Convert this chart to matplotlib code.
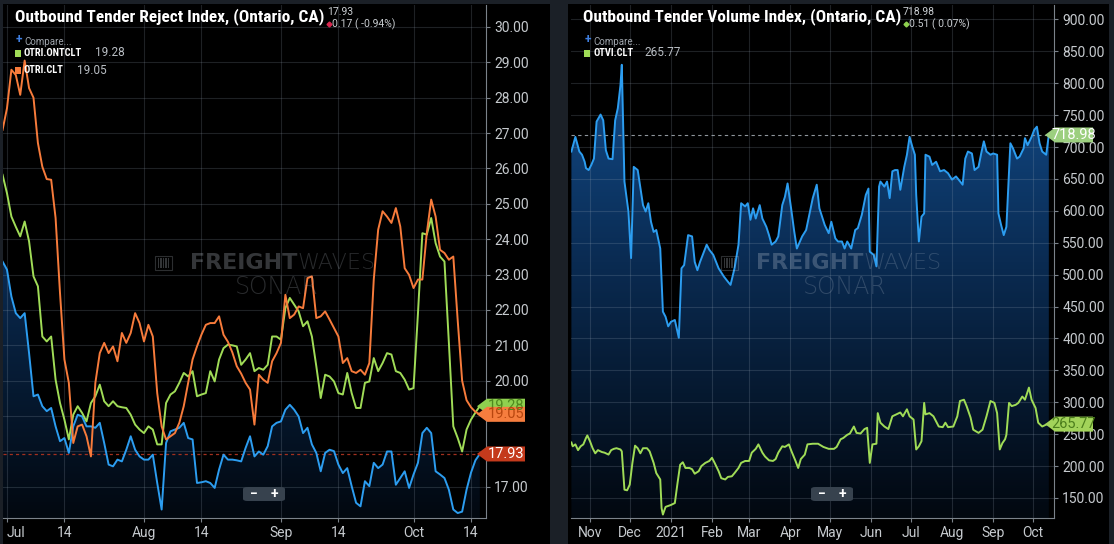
import numpy as np
import pandas as pd
import matplotlib
matplotlib.use("Agg")
import matplotlib.pyplot as plt
import matplotlib.dates as mdates
from matplotlib import font_manager as fm
from matplotlib.colors import LinearSegmentedColormap
from matplotlib.lines import Line2D
from matplotlib.patches import FancyBboxPatch, Polygon, Rectangle

W, H = 1114, 544

# left panel : Outbound Tender Reject Index (Ontario, CA), daily from REJECT_START
REJECT_START = "2021-06-30"
otri = [23.37, 23.14, 22.38, 21.91, 21.77, 21.91, 20.78, 19.56, 19.61, 19.28,
        19.14, 19.23, 18.71, 18.29, 18.38, 17.96, 18.71, 19.04, 18.99, 18.71,
        18.71, 18.67, 18.81, 18.24, 17.63, 17.58, 17.77, 17.72, 18.05, 18.43,
        18.05, 17.86, 17.77, 17.77, 17.91, 17.11, 16.36, 18.24, 18.57, 18.62,
        18.67, 18.81, 18.38, 18.34, 17.11, 17.13, 17.16, 17.11, 16.97, 17.49,
        17.91, 17.77, 17.77, 17.75, 17.72, 18.10, 18.43, 17.86, 18.00, 17.91,
        18.15, 18.71, 18.81, 18.85, 19.18, 19.32, 19.18, 18.99, 18.52, 18.67,
        18.20, 17.96, 17.44, 17.96, 18.05, 18.01, 17.63, 17.39, 17.53, 17.02,
        16.55, 16.45, 17.16, 17.02, 17.68, 17.53, 17.63, 18.00, 18.00, 17.06,
        17.25, 17.44, 16.97, 17.35, 17.68, 18.52, 18.67, 18.52, 17.44, 17.35,
        17.25, 16.92, 16.36, 16.26, 16.30, 16.92, 17.40, 17.75, 17.93]
otri_ontclt = [25.82, 25.30, 24.64, 24.35, 24.08, 24.50, 23.94, 22.95, 22.67, 21.25,
               21.11, 21.25, 20.03, 19.37, 18.90, 18.34, 19.04, 19.28, 19.09, 18.85,
               19.37, 19.56, 19.89, 19.42, 19.28, 19.42, 19.28, 19.25, 19.23, 19.04,
               18.76, 18.62, 18.52, 18.71, 18.62, 18.20, 18.20, 19.37, 19.61, 19.70,
               19.94, 20.22, 20.12, 20.27, 19.56, 19.61, 19.65, 20.27, 19.98, 20.60,
               20.92, 21.02, 21.00, 20.97, 20.45, 20.60, 20.78, 20.27, 20.36, 20.31,
               20.45, 21.25, 21.25, 21.16, 22.05, 22.34, 22.15, 21.96, 21.54, 21.68,
               21.25, 20.41, 19.51, 20.17, 20.12, 19.98, 19.65, 19.61, 20.22, 19.65,
               19.23, 19.23, 19.94, 19.98, 20.64, 20.27, 20.50, 20.78, 20.74, 20.27,
               20.22, 20.03, 19.75, 19.79, 21.90, 24.17, 24.13, 24.60, 23.89, 23.51,
               23.37, 21.07, 18.71, 18.38, 18.00, 18.62, 18.90, 19.10, 19.28]
otri_clt = [27.09, 27.70, 28.79, 28.64, 28.08, 29.05, 28.27, 28.00, 26.72, 26.05,
            25.70, 25.68, 24.60, 22.48, 20.60, 19.94, 18.24, 18.71, 18.76, 18.43,
            17.86, 19.94, 20.78, 21.07, 20.78, 20.97, 20.55, 21.35, 21.07, 21.35,
            21.91, 21.63, 21.11, 21.58, 21.25, 19.65, 18.71, 18.34, 18.43, 18.52,
            18.81, 19.28, 19.94, 20.60, 20.97, 21.30, 21.58, 21.63, 21.63, 21.82,
            21.30, 21.10, 20.80, 20.41, 20.20, 19.94, 19.75, 18.76, 20.17, 20.03,
            19.94, 20.55, 20.78, 21.07, 22.43, 21.77, 21.87, 22.10, 22.05, 22.90,
            22.95, 21.77, 21.82, 21.96, 21.73, 21.49, 21.25, 20.50, 20.64, 20.27,
            20.22, 20.31, 20.17, 20.50, 22.86, 24.27, 24.79, 24.64, 24.46, 24.88,
            24.36, 23.18, 22.99, 22.62, 22.86, 22.86, 24.17, 25.12, 24.64, 23.70,
            23.61, 23.42, 23.51, 21.70, 20.00, 19.45, 19.25, 19.12, 19.05]
reject_ticks = ["2021-07-01", "2021-07-14", "2021-08-01", "2021-08-14",
                "2021-09-01", "2021-09-14", "2021-10-01", "2021-10-14"]
reject_tick_labels = ["Jul", "14", "Aug", "14", "Sep", "14", "Oct", "14"]
reject_yticks = [17, 18, 19, 20, 21, 22, 23, 24, 25, 26, 27, 28, 29, 30]

# right panel : Outbound Tender Volume Index, days counted from VOLUME_BASE
VOLUME_BASE = "2020-11-01"
otvi_day = [-14, -11, -8, -6, -4, -3, -1, 1, 3, 5, 8, 10, 12, 14, 17, 19, 21, 23, 24, 26,
            28, 29, 31, 33, 36, 40, 42, 44, 46, 48, 50, 53, 55, 57, 59, 61, 64, 67, 69, 71,
            74, 77, 79, 81, 83, 86, 88, 90, 93, 97, 101, 104, 106, 109, 112, 114, 117, 119,
            121, 123, 125, 128, 130, 133, 135, 137, 140, 142, 145, 147, 149, 152, 154, 156,
            160, 163, 166, 168, 171, 173, 177, 180, 182, 185, 187, 190, 192, 194, 197, 200,
            202, 205, 208, 210, 211, 214, 216, 218, 219, 222, 224, 226, 228, 230, 232, 234,
            237, 239, 241, 243, 245, 246, 248, 250, 252, 253, 256, 258, 261, 264, 267, 270,
            273, 276, 278, 281, 283, 285, 288, 290, 293, 295, 297, 299, 302, 304, 307, 308,
            310, 312, 314, 317, 319, 322, 324, 327, 328, 330, 333, 335, 337, 339, 341, 344,
            345, 346]
otvi = [693, 716, 693, 688, 677, 667, 664, 672, 682, 740, 751, 742, 695, 682, 681, 742,
        761, 797, 829, 646, 614, 599, 526, 669, 664, 609, 599, 612, 583, 567, 570, 541,
        442, 434, 419, 426, 429, 401, 510, 515, 562, 560, 520, 507, 520, 536, 547, 539,
        531, 510, 497, 489, 484, 510, 547, 612, 607, 612, 586, 604, 588, 609, 588, 575,
        562, 547, 552, 560, 609, 622, 643, 599, 568, 541, 560, 570, 600, 620, 641, 604,
        578, 565, 583, 557, 552, 552, 541, 552, 541, 570, 573, 594, 625, 635, 536, 531,
        513, 638, 646, 638, 646, 620, 662, 664, 664, 633, 669, 688, 716, 701, 688, 625,
        552, 591, 596, 688, 685, 672, 677, 662, 664, 659, 649, 654, 649, 641, 682, 693,
        690, 664, 669, 690, 709, 693, 688, 690, 688, 596, 578, 562, 575, 706, 698, 682,
        685, 698, 714, 703, 716, 727, 732, 706, 693, 688, 703, 718.98]
otvi_clt_day = [-14, -13, -11, -9, -7, -5, -3, -2, 0, 2, 4, 6, 9, 11, 14, 16, 18, 20, 23,
                24, 26, 28, 30, 32, 34, 36, 38, 40, 43, 45, 48, 50, 53, 54, 55, 57, 61, 64,
                66, 68, 70, 72, 75, 77, 79, 82, 84, 87, 90, 92, 94, 97, 99, 102, 104, 107,
                109, 112, 114, 117, 120, 122, 125, 127, 130, 132, 135, 138, 140, 142, 145,
                147, 150, 152, 155, 157, 159, 162, 164, 168, 172, 176, 180, 184, 186, 189,
                191, 194, 196, 199, 201, 204, 207, 209, 211, 213, 216, 217, 219, 222, 225,
                228, 231, 234, 236, 239, 241, 244, 246, 248, 250, 252, 253, 256, 259, 263,
                266, 268, 270, 274, 277, 279, 282, 284, 287, 289, 293, 296, 299, 302, 305,
                307, 309, 311, 313, 314, 316, 318, 321, 323, 326, 328, 331, 333, 336, 338,
                341, 344, 346]
otvi_clt = [237, 231, 234, 225, 231, 234, 244, 248, 239, 228, 220, 225, 222, 221, 218,
            225, 227, 228, 226, 223, 163, 162, 171, 205, 232, 228, 220, 228, 228, 223, 205,
            189, 179, 134, 124, 136, 139, 142, 173, 202, 206, 197, 197, 195, 188, 192, 200,
            205, 208, 213, 205, 192, 181, 179, 183, 184, 189, 197, 205, 208, 208, 221, 227,
            234, 221, 215, 209, 208, 211, 221, 231, 230, 234, 223, 208, 197, 211, 218, 234,
            235, 235, 230, 227, 227, 230, 242, 244, 249, 251, 262, 252, 251, 258, 260, 205,
            234, 235, 283, 268, 262, 258, 278, 281, 284, 278, 289, 278, 273, 226, 231, 239,
            299, 281, 283, 278, 262, 261, 268, 261, 262, 278, 302, 304, 294, 276, 257, 252,
            257, 278, 302, 299, 283, 226, 236, 242, 249, 299, 294, 296, 299, 309, 304, 323,
            304, 291, 268, 262, 265, 265.77]
volume_ticks = ["2020-11-01", "2020-12-01", "2021-01-01", "2021-02-01", "2021-03-01",
                "2021-04-01", "2021-05-01", "2021-06-01", "2021-07-01", "2021-08-01",
                "2021-09-01", "2021-10-01"]
volume_tick_labels = ["Nov", "Dec", "2021", "Feb", "Mar", "Apr", "May", "Jun", "Jul",
                      "Aug", "Sep", "Oct"]
volume_yticks = list(range(150, 901, 50))

BLUE = "#2c9df0"
GREEN = "#a0dc57"
ORANGE = "#f77b3b"
TICK = "#c6cace"
SPINE = "#7b828a"
WM = (0.8, 0.83, 0.87)


def pick_font(cands):
    names = {f.name for f in fm.fontManager.ttflist}
    for c in cands:
        if c in names:
            return c
    return "DejaVu Sans"


plt.rcParams["font.family"] = ["Roboto", "DejaVu Sans"]
TITLE_FONT = pick_font(["Roboto Condensed", "Liberation Sans Narrow", "Roboto"])
TITLE_SIZE = 12.5 if TITLE_FONT != "Roboto" else 10.5

GRAD = LinearSegmentedColormap.from_list("fill", ["#020810", "#0a2b52", "#15569c"])

fig = plt.figure(figsize=(W / 100, H / 100), dpi=100, facecolor="#1b2027")


def fx(px):
    return px / W


def fy(py):
    return 1 - py / H


def ftext(x, y, s, **kw):
    return fig.text(fx(x), fy(y), s, **kw)


# black panel backgrounds
for x0, x1 in [(3, 550), (568, 1109)]:
    fig.patches.append(Rectangle((fx(x0), 0), fx(x1) - fx(x0), fy(4), transform=fig.transFigure,
                                 facecolor="black", edgecolor="none", zorder=-1))

axL = fig.add_axes([fx(3), fy(518), fx(486) - fx(3), fy(5) - fy(518)])
axR = fig.add_axes([fx(571), fy(518), fx(1054) - fx(571), fy(5) - fy(518)])


def style(ax, xlim, ylim, xticks, xlabels, yticks, hidden=()):
    ax.set_facecolor("black")
    ax.set_xlim(xlim)
    ax.set_ylim(ylim)
    ax.yaxis.tick_right()
    ax.set_yticks(yticks)
    # labels sitting fully under a value tag are not shown
    ax.set_yticklabels(["" if t in hidden else f"{t:.2f}" for t in yticks])
    ax.set_xticks(xticks)
    ax.set_xticklabels(xlabels)
    ax.tick_params(labelcolor=TICK, color=SPINE, labelsize=10, length=3, width=0.8, pad=3)
    for s in ["left", "top"]:
        ax.spines[s].set_visible(False)
    for s in ["right", "bottom"]:
        ax.spines[s].set_color(SPINE)
        ax.spines[s].set_linewidth(0.8)
    ax.set_axisbelow(False)
    ax.grid(True, color="#9aa8b8", alpha=0.2, lw=0.8, zorder=2)


def gradient_fill(ax, x, y):
    x0, x1 = ax.get_xlim()
    y0, y1 = ax.get_ylim()
    verts = [(x[0], y0)] + list(zip(x, y)) + [(x[-1], y0)]
    clip = Polygon(verts, closed=True, facecolor="none", edgecolor="none")
    ax.add_patch(clip)
    im = ax.imshow(np.linspace(1, 0, 256)[:, None], cmap=GRAD, aspect="auto",
                   extent=(x0, x1, y0, y1), zorder=1, interpolation="bicubic")
    im.set_clip_path(clip)
    ax.set_xlim(x0, x1)
    ax.set_ylim(y0, y1)


def tag(ax, v, label, fc, tc):
    _, ypx = ax.transData.transform((0, v))
    x0 = ax.get_position().x1 * W
    pts = [(x0 - 9, ypx), (x0 + 1, ypx + 7.5), (x0 + 39, ypx + 7.5),
           (x0 + 39, ypx - 7.5), (x0 + 1, ypx - 7.5)]
    fig.patches.append(Polygon([(px / W, py / H) for px, py in pts], closed=True,
                               transform=fig.transFigure, facecolor=fc, edgecolor="none", zorder=5))
    fig.text((x0 + 20) / W, ypx / H, label, ha="center", va="center", color=tc,
             fontsize=10.5, zorder=6)


def watermark(x_split, y, x_sonar):
    # small bar logo left of the word mark
    x_logo = x_split - 142
    fig.patches.append(Rectangle((fx(x_logo), fy(y + 7)), 17 / W, 14 / H, transform=fig.transFigure,
                                 facecolor="none", edgecolor=(*WM, 0.22), lw=0.8, zorder=1))
    for i in range(5):
        fig.patches.append(Rectangle((fx(x_logo + 2.5 + 2.6 * i), fy(y + 5)), 1.4 / W, 10 / H,
                                     transform=fig.transFigure, facecolor=(*WM, 0.25),
                                     edgecolor="none", zorder=1))
    ftext(x_split, y, "FREIGHT", ha="right", va="center", family="DejaVu Sans",
          fontweight="bold", fontsize=16, color=(*WM, 0.26), zorder=1)
    ftext(x_split, y, "WAVES", ha="left", va="center", family="DejaVu Sans",
          fontweight="light", fontsize=16, color=(*WM, 0.2), zorder=1)
    ftext(x_sonar, y + 24, "SONAR", ha="center", va="center", family="DejaVu Sans",
          fontweight="light", fontsize=17, color=(*WM, 0.2), zorder=1)


def zoom_button(xc):
    fig.patches.append(FancyBboxPatch((fx(xc - 21), fy(501)), 42 / W, 14 / H,
                                      boxstyle="round,pad=0,rounding_size=0.004",
                                      transform=fig.transFigure, facecolor="#37424e",
                                      edgecolor="none", zorder=4))
    ftext(xc - 10, 494, "\u2212", ha="center", va="center", color="white", fontsize=10,
          fontweight="bold", zorder=5)
    ftext(xc + 10, 494, "+", ha="center", va="center", color="white", fontsize=10,
          fontweight="bold", zorder=5)


def legend_row(x, y, color, name, value, value_x):
    fig.patches.append(Rectangle((fx(x), fy(y + 3.5)), 6 / W, 7 / H, transform=fig.transFigure,
                                 facecolor=color, edgecolor="none", zorder=5))
    ftext(x + 9, y, name, va="center", color="white", fontsize=7.5, fontweight="bold",
          family=TITLE_FONT)
    ftext(value_x, y, value, va="center", color="#b9bec4", fontsize=8.5)


# ---- left panel
xl = mdates.date2num(pd.date_range(REJECT_START, periods=len(otri), freq="D"))
t0 = mdates.date2num(pd.Timestamp(REJECT_START))
style(axL, (t0 + 0.1, t0 + 109.4), (16.12, 30.62),
      mdates.date2num(pd.to_datetime(reject_ticks)), reject_tick_labels, reject_yticks,
      hidden=(18, 19))
axL.get_xticklabels()[0].set_horizontalalignment("left")
gradient_fill(axL, xl, otri)
axL.axhline(otri[-1], color="#a3301f", ls=(0, (2.5, 2.5)), lw=0.9, zorder=2.5)
axL.plot(xl, otri, color=BLUE, lw=1.4, zorder=3)
axL.plot(xl, otri_ontclt, color=GREEN, lw=1.4, zorder=3)
axL.plot(xl, otri_clt, color=ORANGE, lw=1.4, zorder=3)

# ---- right panel
base = pd.Timestamp(VOLUME_BASE)
xv = mdates.date2num(base + pd.to_timedelta(otvi_day, unit="D"))
xc = mdates.date2num(base + pd.to_timedelta(otvi_clt_day, unit="D"))
b0 = mdates.date2num(base)
style(axR, (b0 - 14.3, b0 + 349.9), (118.6, 922.7),
      mdates.date2num(pd.to_datetime(volume_ticks)), volume_tick_labels, volume_yticks)
gradient_fill(axR, xv, otvi)
axR.axhline(otvi[-1], color="#8f959c", ls=(0, (3, 3)), lw=0.8, zorder=2.5)
axR.plot(xv, otvi, color=BLUE, lw=1.4, zorder=3)
axR.plot(xc, otvi_clt, color=GREEN, lw=1.4, zorder=3)

# last value tags on the price axis
tag(axL, otri_ontclt[-1], f"{otri_ontclt[-1]:.2f}", "#8fd14f", "#4f8a1f")
tag(axL, otri_clt[-1], f"{otri_clt[-1]:.2f}", "#f67d3e", "#b8460f")
tag(axL, otri[-1], f"{otri[-1]:.2f}", "#c43a1c", "white")
tag(axR, otvi[-1], f"{otvi[-1]:.2f}", "#9ccf7f", "white")
tag(axR, otvi_clt[-1], f"{otvi_clt[-1]:.2f}", "#a2d35a", "#4b7d1c")

# titles, header values, legends
ftext(15, 17, "Outbound Tender Reject Index, (Ontario, CA)", va="center", color="white",
      fontsize=TITLE_SIZE, fontweight="bold", family=TITLE_FONT)
ftext(583, 17, "Outbound Tender Volume Index, (Ontario, CA)", va="center", color="white",
      fontsize=TITLE_SIZE, fontweight="bold", family=TITLE_FONT)

ftext(327, 12, f"{otri[-1]:.2f}", va="center", color="#c9cdd1", fontsize=7.5)
fig.add_artist(Line2D([fx(329)], [fy(24)], marker="D", ms=2.5, color="#d8274f",
                      transform=fig.transFigure))
ftext(332, 24, "0.17 ( -0.94%)", va="center", color="#c9cdd1", fontsize=7.5)
ftext(903, 12, f"{otvi[-1]:.2f}", va="center", color="#c9cdd1", fontsize=7.5)
fig.add_artist(Line2D([fx(906)], [fy(24)], marker="D", ms=2.5, color="#8fd14f",
                      transform=fig.transFigure))
ftext(909, 24, "0.51 ( 0.07%)", va="center", color="#c9cdd1", fontsize=7.5)

for x in (15, 584):
    ftext(x + 1, 40, "+", va="center", color="#3f7fe0", fontsize=8.5, fontweight="bold")
    ftext(x + 9, 42, "Compare...", va="center", color="#9ea4ab", fontsize=7)
legend_row(15, 53, GREEN, "OTRI.ONTCLT", f"{otri_ontclt[-1]:.2f}", 95)
legend_row(15, 70, ORANGE, "OTRI.CLT", f"{otri_clt[-1]:.2f}", 77)
legend_row(584, 53, GREEN, "OTVI.CLT", f"{otvi_clt[-1]:.2f}", 644)

watermark(297, 263, 277)
watermark(863, 263, 845)
zoom_button(264)
zoom_button(832)

fig.savefig("out.png", dpi=100, facecolor=fig.get_facecolor())
